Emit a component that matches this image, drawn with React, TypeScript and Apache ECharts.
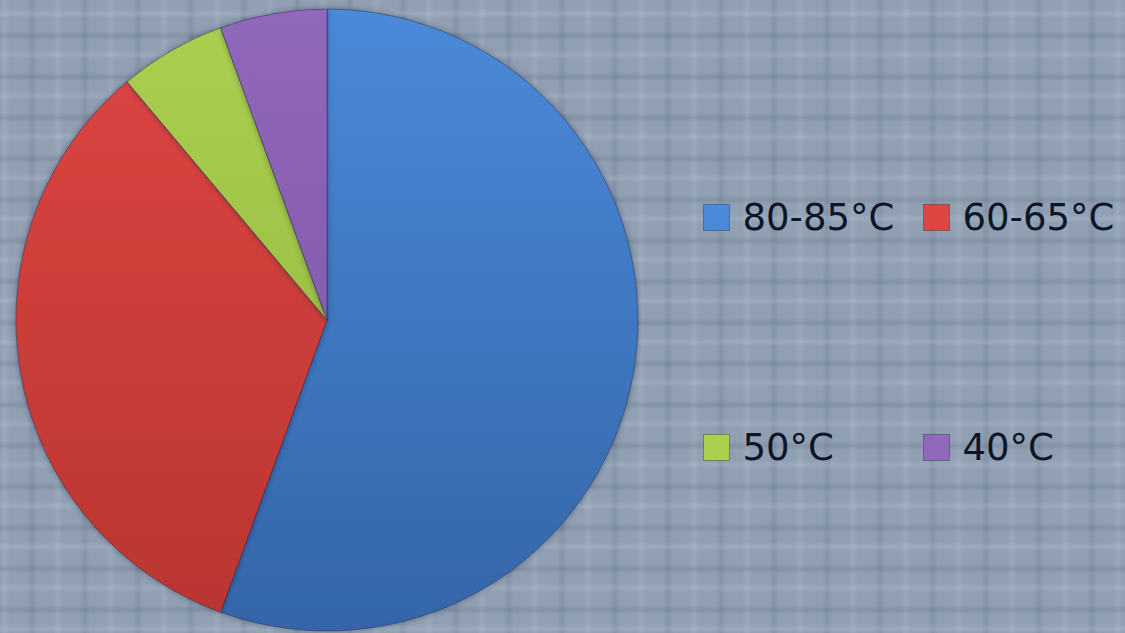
import React, { useEffect, useRef } from "react";
import * as echarts from "echarts";

const categories = ["80-85°C", "60-65°C", "50°C", "40°C"];
const values = [10, 6, 1, 1];
const topColors = ["#4a8ad9", "#de4643", "#abd050", "#9168bb"];
const bottomColors = ["#3565a8", "#b9352f", "#8fb23a", "#7a52a3"];
const legendPos = [
  { left: 703, top: 199 },
  { left: 923, top: 199 },
  { left: 703, top: 429 },
  { left: 923, top: 429 },
];

export default function App() {
  const ref = useRef<HTMLDivElement>(null);
  useEffect(() => {
    if (!ref.current) return;
    const chart = echarts.init(ref.current, null, { renderer: "svg" });
    const data = categories.map((name, i) => ({
      name,
      value: values[i],
      itemStyle: {
        color: {
          type: "linear",
          x: 0,
          y: 9,
          x2: 0,
          y2: 631,
          global: true,
          colorStops: [
            { offset: 0, color: topColors[i] },
            { offset: 1, color: bottomColors[i] },
          ],
        },
      },
    }));
    chart.setOption({
      animation: false,
      backgroundColor: "transparent",
      legend: categories.map((name, i) => ({
        data: [name],
        left: legendPos[i].left,
        top: legendPos[i].top,
        orient: "horizontal",
        itemWidth: 26,
        itemHeight: 26,
        itemGap: 0,
        padding: 0,
        icon: "rect",
        selectedMode: false,
        textStyle: {
          fontFamily: "DejaVu Sans",
          fontSize: 37,
          color: "#0c1628",
          padding: [0, 0, 0, 8],
        },
        itemStyle: { borderColor: "rgba(20,30,50,0.35)", borderWidth: 1 },
      })),
      series: [
        {
          type: "pie",
          center: [327, 320],
          radius: 311,
          startAngle: 90,
          clockwise: true,
          label: { show: false },
          labelLine: { show: false },
          itemStyle: {
            borderColor: "rgba(30,40,70,0.45)",
            borderWidth: 1,
            shadowBlur: 6,
            shadowColor: "rgba(20,30,50,0.35)",
          },
          emphasis: { disabled: true },
          data,
        },
      ],
    });
    return () => chart.dispose();
  }, []);
  const bg: React.CSSProperties = {
    position: "fixed",
    left: 0,
    top: 0,
    width: 1125,
    height: 633,
    backgroundColor: "#90a0b2",
    backgroundImage:
      "repeating-linear-gradient(0deg, transparent 0px, rgba(210,228,245,0.16) 4px, transparent 9px, transparent 19px, rgba(40,55,85,0.13) 23px, transparent 28px, transparent 41px)," +
      "repeating-linear-gradient(90deg, transparent 0px, rgba(210,228,245,0.13) 5px, transparent 10px, transparent 27px, rgba(40,55,85,0.11) 32px, transparent 37px, transparent 53px)",
  };
  return (
    <div style={bg}>
      <div ref={ref} style={{ width: 1125, height: 633 }} />
    </div>
  );
}
